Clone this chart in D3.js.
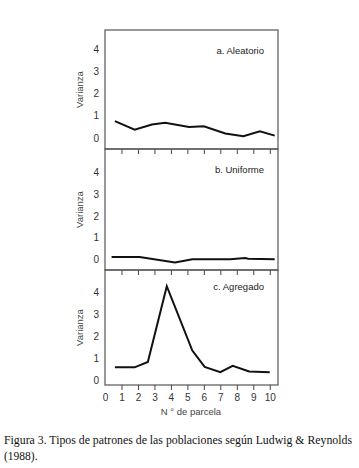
<!DOCTYPE html>
<html>
<head>
<meta charset="utf-8">
<script src="https://cdn.jsdelivr.net/npm/d3@7"></script>
<style>
body{margin:0;background:#fff;}
</style>
</head>
<body>
<div id="plot"></div>
<script>
// data
var xA = [0.6, 1.8, 2.85, 3.65, 5.1, 6.0, 7.3, 8.4, 9.4, 10.3];
var yA = [0.75, 0.37, 0.6, 0.68, 0.49, 0.52, 0.2, 0.07, 0.3, 0.1];
var xB = [0.4, 2.1, 4.25, 5.3, 7.6, 8.5, 8.7, 10.3];
var yB = [0.1, 0.1, -0.15, 0.0, 0.0, 0.05, 0.02, 0.0];
var xC = [0.6, 1.8, 2.6, 3.75, 5.3, 6.05, 7.0, 7.75, 8.75, 10.0];
var yC = [0.6, 0.6, 0.84, 4.27, 1.36, 0.62, 0.38, 0.67, 0.41, 0.38];
var yTicks = [0, 1, 2, 3, 4];
var xTicks = [0, 1, 2, 3, 4, 5, 6, 7, 8, 9, 10];

var panels = [
	{x: xA, y: yA, label: 'a. Aleatorio', top: 30, bottom: 149, dom: [-0.5, 4.85]},
	{x: xB, y: yB, label: 'b. Uniforme', top: 149, bottom: 270, dom: [-0.5, 5.1]},
	{x: xC, y: yC, label: 'c. Agregado', top: 270, bottom: 385, dom: [-0.2, 5.0]}
];

var sans = '"Liberation Sans",Arial,sans-serif';
var width = 359, height = 468;
var svg = d3.select('#plot').append('svg')
	.attr('width', width).attr('height', height);

svg.append('rect').attr('width', width).attr('height', height).attr('fill', '#fff');

var x = d3.scaleLinear().domain([0, 10.5]).range([105, 278]);

panels.forEach(function(p, i){
	var y = d3.scaleLinear().domain(p.dom).range([p.bottom, p.top]);
	var g = svg.append('g');

	// frame
	g.append('rect')
		.attr('x', x.range()[0]).attr('y', p.top)
		.attr('width', x.range()[1] - x.range()[0])
		.attr('height', p.bottom - p.top)
		.attr('fill', 'none').attr('stroke', '#555').attr('stroke-width', 1.2);

	// y axis
	var ya = g.append('g')
		.attr('transform', 'translate(' + x.range()[0] + ',0)')
		.call(d3.axisLeft(y).tickValues(yTicks).tickSize(0).tickPadding(6).tickFormat(d3.format('d')));
	ya.select('.domain').remove();
	ya.selectAll('text').style('font-size', '10px').style('fill', '#333')
		.style('font-family', sans);

	// x ticks on bottom edge
	var xa = g.append('g')
		.attr('transform', 'translate(0,' + p.bottom + ')')
		.call(d3.axisBottom(x).tickValues(xTicks.slice(1)).tickSize(5).tickFormat(''));
	xa.select('.domain').remove();
	xa.selectAll('line').attr('stroke', '#444');

	// y label
	g.append('text')
		.attr('transform', 'translate(83,' + ((p.top + p.bottom) / 2) + ') rotate(-90)')
		.attr('text-anchor', 'middle')
		.style('font-size', '9.5px').style('fill', '#444').style('font-family', sans)
		.text('Varianza');

	// panel title
	g.append('text')
		.attr('x', 264).attr('y', p.top + (i == 2 ? 20 : 24))
		.attr('text-anchor', 'end')
		.style('font-size', '9.5px').style('fill', '#222').style('font-family', sans)
		.text(p.label);

	var pts = p.x.map(function(v, k){ return [v, p.y[k]]; });
	g.append('path')
		.datum(pts)
		.attr('d', d3.line().x(function(d){ return x(d[0]); }).y(function(d){ return y(d[1]); }))
		.attr('fill', 'none').attr('stroke', '#111').attr('stroke-width', 2);

	if (i == 2) {
		var xb = g.append('g')
			.attr('transform', 'translate(0,' + p.bottom + ')')
			.call(d3.axisBottom(x).tickValues(xTicks).tickSize(0).tickPadding(9));
		xb.select('.domain').remove();
		xb.selectAll('text').style('font-size', '10px').style('fill', '#333')
			.style('font-family', sans);
	}
});

svg.append('text')
	.attr('x', 191).attr('y', 415)
	.attr('text-anchor', 'middle')
	.style('font-size', '9.5px').style('fill', '#444').style('font-family', sans)
	.text('N ° de parcela');

svg.append('text')
	.attr('x', 4).attr('y', 444)
	.attr('textLength', 348).attr('lengthAdjust', 'spacingAndGlyphs')
	.style('font-family', '"Liberation Serif",serif')
	.style('font-size', '11.5px').style('fill', '#111')
	.text('Figura 3. Tipos de patrones de las poblaciones según Ludwig & Reynolds');
svg.append('text')
	.attr('x', 4).attr('y', 460)
	.style('font-family', '"Liberation Serif",serif')
	.style('font-size', '11.5px').style('fill', '#111')
	.text('(1988).');
</script>
</body>
</html>
